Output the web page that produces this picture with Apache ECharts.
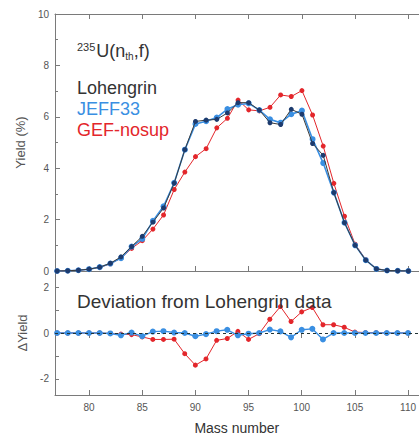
<!DOCTYPE html>
<html>
<head>
<meta charset="utf-8">
<script src="https://cdn.jsdelivr.net/npm/echarts@6/dist/echarts.min.js"></script>
<style>
  html, body { margin: 0; padding: 0; background: #fff; }
  #chart { width: 419px; height: 436px; }
</style>
</head>
<body>
<div id="chart"></div>
<script>
// Fission product yields of 235U(n_th,f), light fragment group
const massNumbers = [77, 78, 79, 80, 81, 82, 83, 84, 85, 86, 87, 88, 89, 90, 91, 92, 93,
  94, 95, 96, 97, 98, 99, 100, 101, 102, 103, 104, 105, 106, 107, 108, 109, 110];

// Yields (%)
const lohengrin = [0, 0.01, 0.03, 0.07, 0.15, 0.30, 0.55, 0.95, 1.35, 1.90, 2.45, 3.42, 4.72, 5.82, 5.87, 5.90, 6.15,
  6.55, 6.55, 6.26, 5.77, 5.70, 6.29, 6.10, 4.96, 4.50, 3.05, 1.88, 1.00, 0.42, 0.08, 0.02, 0.01, 0];
const jeff33 = [0, 0.01, 0.03, 0.07, 0.15, 0.29, 0.50, 0.95, 1.25, 1.95, 2.52, 3.43, 4.72, 5.72, 5.83, 5.97, 6.30,
  6.47, 6.52, 6.26, 5.90, 5.77, 6.10, 6.24, 5.13, 4.20, 3.05, 1.88, 1.00, 0.42, 0.08, 0.02, 0.01, 0];
const gefNosup = [0, 0.01, 0.03, 0.07, 0.14, 0.28, 0.50, 0.88, 1.18, 1.63, 2.18, 3.17, 3.85, 4.45, 4.76, 5.57, 5.94,
  6.65, 6.27, 6.23, 6.37, 6.85, 6.79, 7.02, 6.07, 4.86, 3.41, 2.13, 1.04, 0.44, 0.09, 0.02, 0.01, 0];

// Deviation from Lohengrin (ΔYield)
const deltaJeff33 = [0, 0, 0, 0, 0, -0.02, -0.10, 0.02, -0.14, 0.06, 0.08, 0.02, 0, -0.14, -0.05, 0.08, 0.14,
  -0.10, -0.03, 0, 0.15, 0.07, -0.19, 0.14, 0.18, -0.28, 0, 0, 0, 0, 0, 0, 0, 0];
const deltaGef = [0, 0, 0, 0, 0, -0.02, -0.05, -0.07, -0.17, -0.28, -0.28, -0.27, -0.90, -1.40, -1.13, -0.32, -0.24,
  0.07, -0.28, -0.03, 0.60, 1.15, 0.50, 0.92, 1.11, 0.36, 0.36, 0.25, 0.04, 0.02, 0.01, 0, 0, 0];

// Axis ticks
const massTicks = [80, 85, 90, 95, 100, 105, 110];
const deltaTicks = [-2, -1, 0, 1, 2];
const deltaLabels = [-2, 0, 2];

const pairs = (ys) => massNumbers.map((a, i) => [a, ys[i]]);

const FONT = 'Liberation Sans';
const AXIS_COLOR = '#7a7a7a';
const LABEL_COLOR = '#555';
const RED = '#e3262b';
const BLUE = '#3a8fe2';
const NAVY = '#1d3b6e';

const chart = echarts.init(document.getElementById('chart'), null, { renderer: 'svg' });

const baseX = {
  type: 'value', min: 76.8, max: 111,
  splitLine: { show: false },
  axisLine: { show: true, onZero: false, lineStyle: { color: AXIS_COLOR, width: 1 } },
  axisTick: { show: true, inside: true, length: 5, customValues: massTicks, lineStyle: { color: AXIS_COLOR } },
  axisLabel: { show: false }
};

const plainText = (color, size) => ({ fontFamily: FONT, fontSize: size, fontWeight: 'normal', color: color });

chart.setOption({
  animation: false,
  backgroundColor: '#fff',
  textStyle: { fontFamily: FONT },
  title: [
    {
      text: '{sup|235}{n|U(n}{sub|th}{n|,f)}',
      left: 72, top: 36,
      textStyle: {
        fontWeight: 'normal',
        rich: {
          sup: { fontFamily: FONT, fontSize: 11, fontWeight: 'normal', color: '#333', verticalAlign: 'top', padding: [0, 1, 8, 0] },
          n: { fontFamily: FONT, fontSize: 18, fontWeight: 'normal', color: '#333' },
          sub: { fontFamily: FONT, fontSize: 10, fontWeight: 'normal', color: '#333', padding: [10, 0, 0, 0] }
        }
      }
    },
    { text: 'Lohengrin', left: 72, top: 74, textStyle: plainText('#333', 18) },
    { text: 'JEFF33', left: 72, top: 95, textStyle: plainText(BLUE, 18) },
    { text: 'GEF-nosup', left: 72, top: 116, textStyle: plainText(RED, 18) },
    { text: 'Deviation from Lohengrin data', left: 72, top: 287, textStyle: plainText('#333', 19) }
  ],
  grid: [
    { left: 55, top: 14, right: -6, height: 257 },
    { left: 55, top: 271, right: -6, height: 131 }
  ],
  xAxis: [
    Object.assign({}, baseX, { gridIndex: 0, position: 'bottom' }),
    Object.assign({}, baseX, { gridIndex: 0, position: 'top' }),
    Object.assign({}, baseX, {
      gridIndex: 1, position: 'bottom',
      name: 'Mass number', nameLocation: 'middle', nameGap: 26,
      nameTextStyle: { fontFamily: FONT, fontSize: 14, color: '#333' },
      axisLabel: { show: true, customValues: massTicks, fontFamily: FONT, fontSize: 10, color: LABEL_COLOR, margin: 7 }
    }),
    Object.assign({}, baseX, { gridIndex: 1, position: 'top', axisLine: { show: false } })
  ],
  yAxis: [
    {
      type: 'value', gridIndex: 0, min: 0, max: 10, interval: 2,
      splitLine: { show: false },
      axisLine: { show: true, lineStyle: { color: AXIS_COLOR } },
      axisTick: { show: true, inside: true, length: 5, lineStyle: { color: AXIS_COLOR } },
      minorTick: { show: true, splitNumber: 2, length: 3, lineStyle: { color: AXIS_COLOR } },
      axisLabel: { fontFamily: FONT, fontSize: 10, color: LABEL_COLOR, margin: 6 },
      name: 'Yield (%)', nameLocation: 'middle', nameGap: 27,
      nameTextStyle: { fontFamily: FONT, fontSize: 13, color: '#555' }
    },
    {
      type: 'value', gridIndex: 1, min: -2.7, max: 2.7,
      splitLine: { show: false },
      axisLine: { show: true, lineStyle: { color: AXIS_COLOR } },
      axisTick: { show: true, inside: true, length: 4, customValues: deltaTicks, lineStyle: { color: AXIS_COLOR } },
      axisLabel: { customValues: deltaLabels, fontFamily: FONT, fontSize: 10, color: LABEL_COLOR, margin: 6 },
      name: 'ΔYield', nameLocation: 'middle', nameGap: 24,
      nameTextStyle: { fontFamily: FONT, fontSize: 13, color: '#555' }
    }
  ],
  series: [
    {
      name: 'GEF-nosup', type: 'line', xAxisIndex: 0, yAxisIndex: 0, z: 2,
      data: pairs(gefNosup), symbol: 'circle', symbolSize: 5,
      lineStyle: { color: RED, width: 1 }, itemStyle: { color: RED }
    },
    {
      name: 'JEFF33', type: 'line', xAxisIndex: 0, yAxisIndex: 0, z: 3,
      data: pairs(jeff33), symbol: 'circle', symbolSize: 6,
      lineStyle: { color: BLUE, width: 1.6 }, itemStyle: { color: BLUE }
    },
    {
      name: 'Lohengrin', type: 'line', xAxisIndex: 0, yAxisIndex: 0, z: 4,
      data: pairs(lohengrin), symbol: 'circle', symbolSize: 5,
      lineStyle: { color: '#3a3a3a', width: 1 }, itemStyle: { color: NAVY }
    },
    {
      name: 'GEF-nosup Δ', type: 'line', xAxisIndex: 2, yAxisIndex: 1, z: 2,
      data: pairs(deltaGef), symbol: 'circle', symbolSize: 5,
      lineStyle: { color: RED, width: 1 }, itemStyle: { color: RED }
    },
    {
      name: 'JEFF33 Δ', type: 'line', xAxisIndex: 2, yAxisIndex: 1, z: 3,
      data: pairs(deltaJeff33), symbol: 'circle', symbolSize: 6,
      lineStyle: { color: BLUE, width: 1.4 }, itemStyle: { color: BLUE },
      markLine: {
        silent: true, symbol: 'none', label: { show: false },
        lineStyle: { color: '#233', type: [3, 3], width: 1 },
        data: [{ yAxis: 0 }]
      }
    }
  ]
});
</script>
</body>
</html>
